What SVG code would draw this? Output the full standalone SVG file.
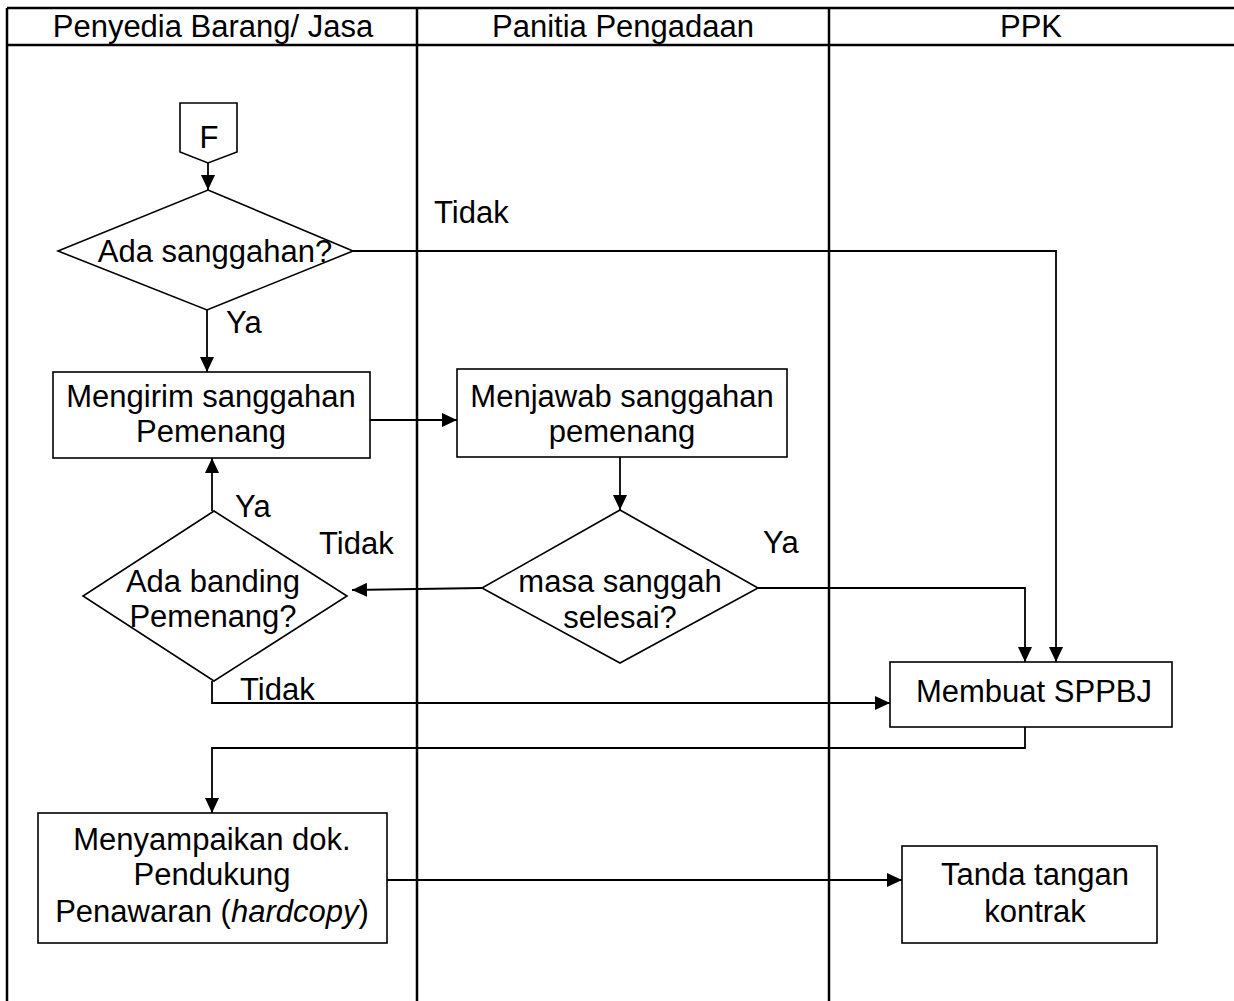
<svg xmlns="http://www.w3.org/2000/svg" width="1234" height="1001" viewBox="0 0 1234 1001">
<style>
text{font-family:"Liberation Sans",Arial,sans-serif;font-size:31px;fill:#000}
.c{text-anchor:middle}
.frame{stroke:#000;stroke-width:2.5;fill:none}
.node{fill:#fff;stroke:#000;stroke-width:1.6}
.conn{fill:none;stroke:#000;stroke-width:1.8}
</style>
<defs>
<marker id="ah" markerUnits="userSpaceOnUse" markerWidth="16" markerHeight="14" refX="15" refY="7" orient="auto">
<path d="M0,0 L15,7 L0,14 Z" fill="#000"/>
</marker>
</defs>
<rect width="1234" height="1001" fill="#fff"/>
<g id="swimlanes">
<path class="frame" d="M7,8 H1234 M7,45 H1234 M7,8 V1001 M417,8 V1001 M829,8 V1001"/>
<text class="c" x="213" y="37">Penyedia Barang/ Jasa</text>
<text class="c" x="623" y="37">Panitia Pengadaan</text>
<text class="c" x="1031" y="37">PPK</text>
</g>
<g id="connectors">
<path class="conn" d="M208,163 L208,190" marker-end="url(#ah)"/>
<path class="conn" d="M207,310 L207,372" marker-end="url(#ah)"/>
<path class="conn" d="M353,251 H1056 V662" marker-end="url(#ah)"/>
<path class="conn" d="M370,420 H457" marker-end="url(#ah)"/>
<path class="conn" d="M620,457 V510" marker-end="url(#ah)"/>
<path class="conn" d="M482,588 L352,590" marker-end="url(#ah)"/>
<path class="conn" d="M758,588 H1025 V662" marker-end="url(#ah)"/>
<path class="conn" d="M212,511 V458" marker-end="url(#ah)"/>
<path class="conn" d="M212,681 V703 H890" marker-end="url(#ah)"/>
<path class="conn" d="M1025,727 V748 H212 V813" marker-end="url(#ah)"/>
<path class="conn" d="M387,880 H902" marker-end="url(#ah)"/>
<text x="434" y="223">Tidak</text>
<text x="226" y="333">Ya</text>
<text x="235" y="517">Ya</text>
<text x="319" y="554">Tidak</text>
<text x="763" y="553">Ya</text>
<text x="240" y="700">Tidak</text>
</g>
<g id="F">
<polygon class="node" points="180,103 237,103 237,152 208,163 180,152"/>
<text class="c" x="209" y="148">F</text>
</g>
<g id="ada-sanggahan">
<polygon class="node" points="208,190 353,251 207,310 58,251"/>
<text class="c" x="215" y="262">Ada sanggahan?</text>
</g>
<g id="mengirim">
<rect class="node" x="53" y="372" width="317" height="86"/>
<text class="c" x="211" y="407">Mengirim sanggahan</text>
<text class="c" x="211" y="442">Pemenang</text>
</g>
<g id="menjawab">
<rect class="node" x="457" y="369" width="330" height="88"/>
<text class="c" x="622" y="407">Menjawab sanggahan</text>
<text class="c" x="622" y="442">pemenang</text>
</g>
<g id="masa-sanggah">
<polygon class="node" points="620,510 758,588 620,663 482,588"/>
<text class="c" x="620" y="592">masa sanggah</text>
<text class="c" x="620" y="628">selesai?</text>
</g>
<g id="ada-banding">
<polygon class="node" points="214,511 347,596 214,681 83,596"/>
<text class="c" x="213" y="592">Ada banding</text>
<text class="c" x="213" y="627">Pemenang?</text>
</g>
<g id="sppbj">
<rect class="node" x="890" y="662" width="282" height="65"/>
<text class="c" x="1034" y="702">Membuat SPPBJ</text>
</g>
<g id="menyampaikan">
<rect class="node" x="38" y="813" width="349" height="130"/>
<text class="c" x="212" y="850">Menyampaikan dok.</text>
<text class="c" x="212" y="885">Pendukung</text>
<text class="c" x="212" y="922">Penawaran (<tspan font-style="italic">hardcopy</tspan>)</text>
</g>
<g id="tanda-tangan">
<rect class="node" x="902" y="846" width="255" height="97"/>
<text class="c" x="1035" y="885">Tanda tangan</text>
<text class="c" x="1035" y="922">kontrak</text>
</g>
</svg>
